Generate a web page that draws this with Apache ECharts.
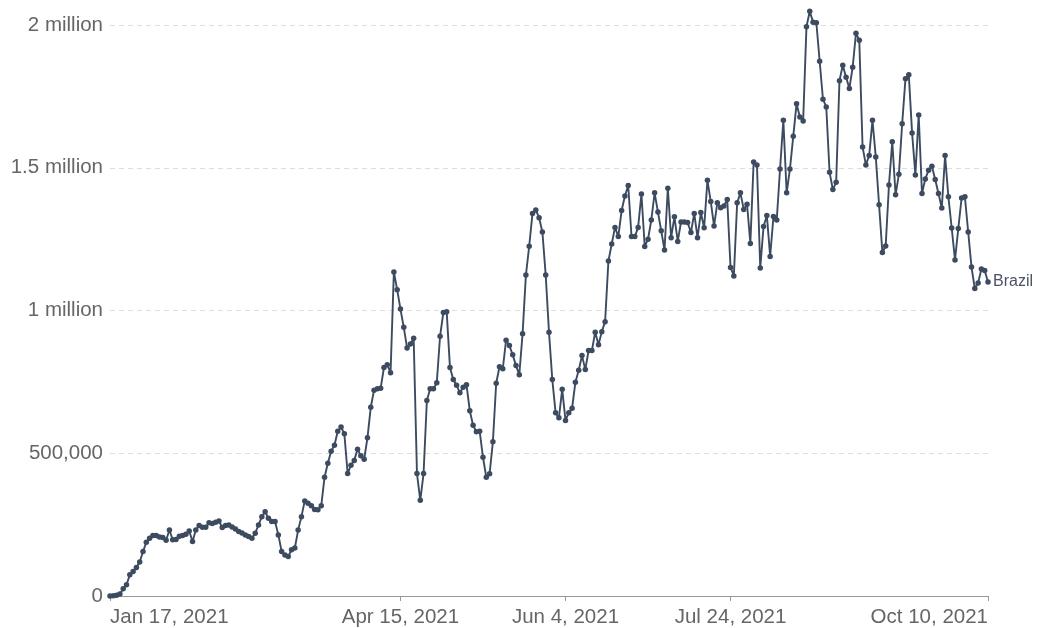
<!DOCTYPE html>
<html>
<head>
<meta charset="utf-8">
<script src="https://cdn.jsdelivr.net/npm/echarts@6/dist/echarts.min.js"></script>
<style>
html,body{margin:0;padding:0;background:#fff;}
#chart{width:1038px;height:628px;}
</style>
</head>
<body>
<div id="chart"></div>
<script>
// Daily COVID-19 vaccine doses administered, Brazil, Jan 17 – Oct 10, 2021
const startDate = [2021, 0, 17];
const dayCount = 267;
const tickLabels = ['Jan 17, 2021', 'Apr 15, 2021', 'Jun 4, 2021', 'Jul 24, 2021', 'Oct 10, 2021'];
const yTickLabels = { 0: '0', 500000: '500,000', 1000000: '1 million', 1500000: '1.5 million', 2000000: '2 million' };
const seriesName = 'Brazil';
const brazilDoses = [
  100, 500, 2300, 7000, 25600, 39600, 74000, 86000, 100000, 119000,
  156000, 188000, 202000, 212000, 212000, 207000, 205000, 195000, 231000, 197000,
  198000, 209000, 212000, 216000, 228000, 191000, 231000, 247000, 241000, 241000,
  257000, 254000, 258000, 263000, 240000, 247000, 249000, 242000, 235000, 226000,
  221000, 214000, 208000, 202000, 220000, 249000, 278000, 295000, 272000, 261000,
  261000, 214000, 156000, 144000, 138000, 162000, 168000, 231000, 278000, 333000,
  325000, 316000, 303000, 302000, 316000, 416000, 465000, 507000, 528000, 577000,
  592000, 568000, 429000, 458000, 475000, 514000, 491000, 479000, 554000, 661000,
  721000, 726000, 728000, 800000, 810000, 782000, 1135000, 1073000, 1005000, 941000,
  869000, 883000, 903000, 429000, 335000, 429000, 685000, 726000, 726000, 747000,
  910000, 993000, 996000, 800000, 758000, 738000, 712000, 731000, 740000, 649000,
  598000, 575000, 577000, 486000, 416000, 428000, 540000, 745000, 803000, 796000,
  896000, 877000, 845000, 807000, 775000, 919000, 1124000, 1225000, 1340000, 1352000,
  1325000, 1275000, 1124000, 924000, 758000, 642000, 624000, 724000, 615000, 642000,
  658000, 749000, 791000, 842000, 793000, 860000, 860000, 924000, 880000, 926000,
  961000, 1173000, 1233000, 1291000, 1259000, 1350000, 1401000, 1438000, 1259000, 1259000,
  1291000, 1408000, 1224000, 1250000, 1317000, 1412000, 1345000, 1279000, 1212000, 1428000,
  1255000, 1328000, 1242000, 1310000, 1310000, 1308000, 1273000, 1340000, 1255000, 1343000,
  1290000, 1456000, 1382000, 1296000, 1377000, 1360000, 1366000, 1389000, 1151000, 1121000,
  1377000, 1412000, 1354000, 1372000, 1235000, 1520000, 1510000, 1149000, 1294000, 1333000,
  1189000, 1329000, 1317000, 1496000, 1666000, 1412000, 1496000, 1610000, 1724000, 1678000,
  1664000, 1994000, 2048000, 2010000, 2008000, 1873000, 1740000, 1713000, 1484000, 1424000,
  1449000, 1805000, 1859000, 1817000, 1778000, 1852000, 1971000, 1947000, 1573000, 1510000,
  1543000, 1666000, 1538000, 1370000, 1203000, 1226000, 1440000, 1591000, 1405000, 1477000,
  1654000, 1812000, 1826000, 1622000, 1475000, 1685000, 1410000, 1461000, 1491000, 1505000,
  1459000, 1410000, 1359000, 1543000, 1398000, 1289000, 1177000, 1287000, 1394000, 1398000,
  1275000, 1152000, 1077000, 1096000, 1145000, 1140000, 1100000
];

const MONTHS = ['Jan','Feb','Mar','Apr','May','Jun','Jul','Aug','Sep','Oct','Nov','Dec'];
const categories = [];
for (let i = 0; i < dayCount; i++) {
  const d = new Date(Date.UTC(startDate[0], startDate[1], startDate[2] + i));
  categories.push(MONTHS[d.getUTCMonth()] + ' ' + d.getUTCDate() + ', ' + d.getUTCFullYear());
}
const showTick = (idx, val) => tickLabels.indexOf(val) >= 0;

const FONT = '"Liberation Sans", Arial, Helvetica, sans-serif';
const chart = echarts.init(document.getElementById('chart'), null, { renderer: 'canvas' });
chart.setOption({
  animation: false,
  backgroundColor: '#ffffff',
  grid: { left: 110, right: 50, top: 25, bottom: 30, containLabel: false },
  xAxis: {
    type: 'category',
    data: categories,
    boundaryGap: false,
    axisLine: { show: true, lineStyle: { color: '#999999', width: 1 } },
    axisTick: { show: true, interval: showTick, length: 5, lineStyle: { color: '#999999' } },
    axisLabel: {
      interval: showTick,
      color: '#666666',
      fontSize: 20.5,
      fontFamily: FONT,
      margin: 11,
      alignMinLabel: 'left',
      alignMaxLabel: 'right',
      showMinLabel: true,
      showMaxLabel: true
    },
    splitLine: { show: false }
  },
  yAxis: {
    type: 'value',
    min: 0,
    max: 2000000,
    interval: 500000,
    axisLine: { show: false },
    axisTick: { show: false },
    axisLabel: {
      color: '#666666',
      fontSize: 20.5,
      fontFamily: FONT,
      margin: 7,
      formatter: v => yTickLabels[v] !== undefined ? yTickLabels[v] : String(v)
    },
    splitLine: { show: true, lineStyle: { color: '#dddddd', type: [5, 4], width: 1 } }
  },
  series: [{
    name: seriesName,
    type: 'line',
    data: brazilDoses,
    clip: false,
    symbol: 'circle',
    symbolSize: 5.5,
    showAllSymbol: true,
    lineStyle: { color: '#3d4b60', width: 1.9 },
    itemStyle: { color: '#3d4b60' },
    endLabel: {
      show: true,
      formatter: seriesName,
      color: '#4a5366',
      fontSize: 16,
      fontFamily: FONT,
      distance: 5
    }
  }]
});
</script>
</body>
</html>
